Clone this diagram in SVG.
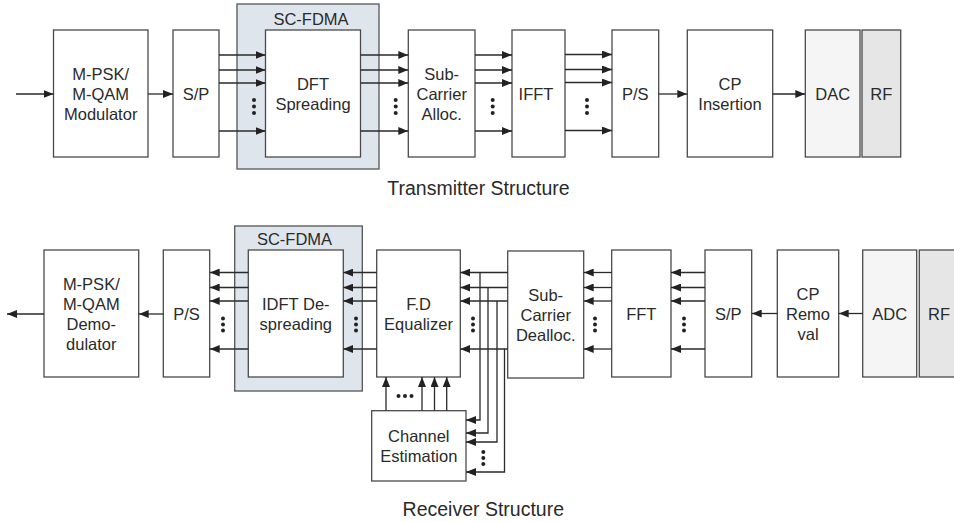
<svg xmlns="http://www.w3.org/2000/svg" width="954" height="522" viewBox="0 0 954 522">
<style>
.box{fill:#fff;stroke:#4a4a4a;stroke-width:1.3}
.shade{fill:#dfe5ec;stroke:#555;stroke-width:1.3}
.dac{fill:#f5f5f5;stroke:#4a4a4a;stroke-width:1.3}
.rf{fill:#e6e6e6;stroke:#4a4a4a;stroke-width:1.3}
text{font-family:"Liberation Sans",Arial,sans-serif;font-size:16.5px;fill:#2a2a2a;text-anchor:middle}
.title{font-size:19.5px}
.arr{fill:none;stroke:#2a2a2a;stroke-width:1.3;marker-end:url(#ah)}
.dot{fill:#222}
</style>
<defs>
<marker id="ah" markerUnits="userSpaceOnUse" markerWidth="10" markerHeight="8" refX="10" refY="4" orient="auto">
<path d="M0,0 L10,4 L0,8 z" fill="#222"/>
</marker>
</defs>

<!-- Transmitter nodes -->
<g id="tx-scfdma"><rect class="shade" x="237" y="4" width="142" height="165"/><text x="311" y="25">SC-FDMA</text></g>
<g id="tx-mod"><rect class="box" x="53.5" y="30" width="94.5" height="127"/><text x="100.7" y="79.5">M-PSK/</text><text x="100.7" y="99.5">M-QAM</text><text x="100.7" y="119.5">Modulator</text></g>
<g id="tx-sp"><rect class="box" x="173" y="30" width="46" height="127"/><text x="196" y="99.5">S/P</text></g>
<g id="tx-dft"><rect class="box" x="265.5" y="30" width="95" height="127"/><text x="313" y="89.5">DFT</text><text x="313" y="109.5">Spreading</text></g>
<g id="tx-sca"><rect class="box" x="408.3" y="30" width="66.7" height="127"/><text x="441.7" y="79.5">Sub-</text><text x="441.7" y="99.5">Carrier</text><text x="441.7" y="119.5">Alloc.</text></g>
<g id="tx-ifft"><rect class="box" x="512" y="30" width="53" height="127"/><text x="536" y="99.5">IFFT</text></g>
<g id="tx-ps"><rect class="box" x="612" y="30" width="46.7" height="127"/><text x="635.3" y="99.5">P/S</text></g>
<g id="tx-cp"><rect class="box" x="687.3" y="30" width="85.4" height="127"/><text x="730" y="89.5">CP</text><text x="730" y="109.5">Insertion</text></g>
<g id="tx-dac"><rect class="dac" x="805.3" y="30" width="54.7" height="127"/><text x="832.7" y="99.5">DAC</text></g>
<g id="tx-rf"><rect class="rf" x="862" y="30" width="38.7" height="127"/><text x="881.3" y="99.5">RF</text></g>
<g id="tx-title"><text class="title" x="478.5" y="195">Transmitter Structure</text></g>

<!-- Receiver nodes -->
<g id="rx-scfdma"><rect class="shade" x="234.7" y="226" width="127.6" height="165"/><text x="294.5" y="245">SC-FDMA</text></g>
<g id="rx-demod"><rect class="box" x="44" y="250" width="94.7" height="127"/><text x="91.3" y="289.5">M-PSK/</text><text x="91.3" y="309.5">M-QAM</text><text x="91.3" y="329.5">Demo-</text><text x="91.3" y="349.5">dulator</text></g>
<g id="rx-ps"><rect class="box" x="163.3" y="250" width="46.4" height="127"/><text x="186.5" y="319.5">P/S</text></g>
<g id="rx-idft"><rect class="box" x="248.3" y="250" width="95" height="127"/><text x="295.8" y="309.5">IDFT De-</text><text x="295.8" y="329.5">spreading</text></g>
<g id="rx-fde"><rect class="box" x="376.7" y="250" width="83.6" height="127"/><text x="418.5" y="309.5">F.D</text><text x="418.5" y="329.5">Equalizer</text></g>
<g id="rx-dealloc"><rect class="box" x="507.7" y="251" width="76" height="127"/><text x="545.7" y="300.5">Sub-</text><text x="545.7" y="320.5">Carrier</text><text x="545.7" y="340.5">Dealloc.</text></g>
<g id="rx-fft"><rect class="box" x="611.7" y="250" width="59.3" height="127"/><text x="641.3" y="319.5">FFT</text></g>
<g id="rx-sp"><rect class="box" x="705" y="250" width="46.7" height="127"/><text x="728.3" y="319.5">S/P</text></g>
<g id="rx-cp"><rect class="box" x="777.3" y="250" width="61.4" height="127"/><text x="808" y="299.5">CP</text><text x="808" y="319.5">Remo</text><text x="808" y="339.5">val</text></g>
<g id="rx-adc"><rect class="dac" x="862.7" y="250" width="54" height="127"/><text x="889.7" y="319.5">ADC</text></g>
<g id="rx-rf"><rect class="rf" x="919.3" y="250" width="40" height="127"/><text x="939" y="319.5">RF</text></g>
<g id="rx-ce"><rect class="box" x="371.7" y="410.7" width="94.3" height="70.3"/><text x="418.8" y="441.8">Channel</text><text x="418.8" y="461.8">Estimation</text></g>
<g id="rx-title"><text class="title" x="483.3" y="515.5">Receiver Structure</text></g>

<!-- Connectors -->
<g id="connectors">
<line class="arr" x1="16" y1="94" x2="53.5" y2="94"/>
<line class="arr" x1="148" y1="94" x2="173" y2="94"/>
<line class="arr" x1="219" y1="55" x2="265.5" y2="55"/>
<line class="arr" x1="219" y1="70" x2="265.5" y2="70"/>
<line class="arr" x1="219" y1="83" x2="265.5" y2="83"/>
<line class="arr" x1="219" y1="131" x2="265.5" y2="131"/>
<line class="arr" x1="360.5" y1="55" x2="408.3" y2="55"/>
<line class="arr" x1="360.5" y1="70" x2="408.3" y2="70"/>
<line class="arr" x1="360.5" y1="83" x2="408.3" y2="83"/>
<line class="arr" x1="360.5" y1="131" x2="408.3" y2="131"/>
<line class="arr" x1="475" y1="55" x2="512" y2="55"/>
<line class="arr" x1="475" y1="70" x2="512" y2="70"/>
<line class="arr" x1="475" y1="83" x2="512" y2="83"/>
<line class="arr" x1="475" y1="131" x2="512" y2="131"/>
<line class="arr" x1="565" y1="54.5" x2="612" y2="54.5"/>
<line class="arr" x1="565" y1="69.5" x2="612" y2="69.5"/>
<line class="arr" x1="565" y1="82.5" x2="612" y2="82.5"/>
<line class="arr" x1="565" y1="130.5" x2="612" y2="130.5"/>
<line class="arr" x1="658.7" y1="94" x2="687.3" y2="94"/>
<line class="arr" x1="772.7" y1="94" x2="805.3" y2="94"/>
<line class="arr" x1="44" y1="314" x2="7" y2="314"/>
<line class="arr" x1="163.3" y1="314" x2="138.7" y2="314"/>
<line class="arr" x1="248.3" y1="272.5" x2="209.7" y2="272.5"/>
<line class="arr" x1="248.3" y1="287.5" x2="209.7" y2="287.5"/>
<line class="arr" x1="248.3" y1="301" x2="209.7" y2="301"/>
<line class="arr" x1="248.3" y1="349" x2="209.7" y2="349"/>
<line class="arr" x1="376.7" y1="272.5" x2="343.3" y2="272.5"/>
<line class="arr" x1="376.7" y1="287.5" x2="343.3" y2="287.5"/>
<line class="arr" x1="376.7" y1="301" x2="343.3" y2="301"/>
<line class="arr" x1="376.7" y1="349" x2="343.3" y2="349"/>
<line class="arr" x1="507.7" y1="272.5" x2="460.3" y2="272.5"/>
<line class="arr" x1="507.7" y1="287.5" x2="460.3" y2="287.5"/>
<line class="arr" x1="507.7" y1="301" x2="460.3" y2="301"/>
<line class="arr" x1="507.7" y1="349" x2="460.3" y2="349"/>
<line class="arr" x1="611.7" y1="272.5" x2="583.7" y2="272.5"/>
<line class="arr" x1="611.7" y1="287.5" x2="583.7" y2="287.5"/>
<line class="arr" x1="611.7" y1="301" x2="583.7" y2="301"/>
<line class="arr" x1="611.7" y1="349" x2="583.7" y2="349"/>
<line class="arr" x1="705" y1="272.5" x2="671" y2="272.5"/>
<line class="arr" x1="705" y1="287.5" x2="671" y2="287.5"/>
<line class="arr" x1="705" y1="301" x2="671" y2="301"/>
<line class="arr" x1="705" y1="349" x2="671" y2="349"/>
<line class="arr" x1="777.3" y1="313.5" x2="751.7" y2="313.5"/>
<line class="arr" x1="862.7" y1="313.5" x2="838.7" y2="313.5"/>
<polyline class="arr" points="480,272.5 480,420 466,420"/>
<polyline class="arr" points="488,287.5 488,433 466,433"/>
<polyline class="arr" points="497,301 497,442 466,442"/>
<polyline class="arr" points="504.5,349 504.5,472 466,472"/>
<line class="arr" x1="386" y1="410.7" x2="386" y2="377"/>
<line class="arr" x1="422" y1="410.7" x2="422" y2="377"/>
<line class="arr" x1="434.5" y1="410.7" x2="434.5" y2="377"/>
<line class="arr" x1="446.7" y1="410.7" x2="446.7" y2="377"/>
<g class="dot">
<circle cx="254" cy="100" r="2"/><circle cx="254" cy="106.5" r="2"/><circle cx="254" cy="113" r="2"/>
<circle cx="395.7" cy="100" r="2"/><circle cx="395.7" cy="106.5" r="2"/><circle cx="395.7" cy="113" r="2"/>
<circle cx="492.7" cy="100" r="2"/><circle cx="492.7" cy="106.5" r="2"/><circle cx="492.7" cy="113" r="2"/>
<circle cx="587" cy="100" r="2"/><circle cx="587" cy="106.5" r="2"/><circle cx="587" cy="113" r="2"/>
<circle cx="223" cy="318.5" r="2"/><circle cx="223" cy="324.5" r="2"/><circle cx="223" cy="330.5" r="2"/>
<circle cx="356" cy="318.5" r="2"/><circle cx="356" cy="324.5" r="2"/><circle cx="356" cy="330.5" r="2"/>
<circle cx="473" cy="318.5" r="2"/><circle cx="473" cy="324.5" r="2"/><circle cx="473" cy="330.5" r="2"/>
<circle cx="595" cy="318.5" r="2"/><circle cx="595" cy="324.5" r="2"/><circle cx="595" cy="330.5" r="2"/>
<circle cx="684" cy="318.5" r="2"/><circle cx="684" cy="324.5" r="2"/><circle cx="684" cy="330.5" r="2"/>
<circle cx="483.3" cy="452" r="2"/><circle cx="483.3" cy="458" r="2"/><circle cx="483.3" cy="464" r="2"/>
<circle cx="398.5" cy="396" r="2"/><circle cx="405" cy="396" r="2"/><circle cx="411.5" cy="396" r="2"/>
</g>
</g>
</svg>
